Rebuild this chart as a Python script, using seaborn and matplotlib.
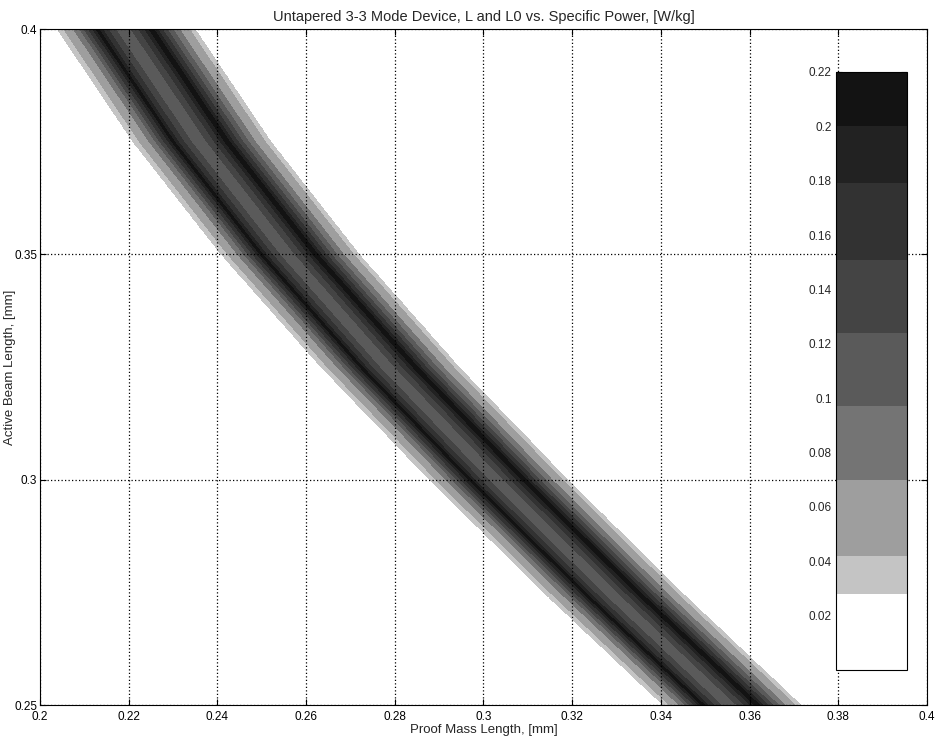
import numpy as np
import matplotlib
matplotlib.use("Agg")
import matplotlib.pyplot as plt
import seaborn as sns

# centre of the band (proof mass length) read at a few beam lengths
beam_len = [0.25, 0.275, 0.30, 0.325, 0.35, 0.375, 0.40]
band_centre = [0.3560, 0.3291, 0.3034, 0.2789, 0.2564, 0.2365, 0.2194]
half_width = 0.0155

# cross-section of specific power across the band (relative offset -> W/kg)
cross_u = [-1.05, -1.0, -0.85, -0.7, -0.56, -0.42, -0.3, -0.15, 0.05, 0.2,
           0.37, 0.5, 0.63, 0.78, 0.9, 1.0, 1.05]
cross_p = [0.0, 0.029, 0.05, 0.085, 0.145, 0.207, 0.16, 0.122, 0.118, 0.155,
           0.212, 0.16, 0.11, 0.068, 0.045, 0.029, 0.0]

# contour levels and fill greys as on the colorbar
levels = [0.0, 0.028, 0.042, 0.07, 0.097, 0.124, 0.151, 0.179, 0.2, 0.22]
greys = ["#ffffff", "#c4c4c4", "#9e9e9e", "#747474", "#5a5a5a",
         "#444444", "#323232", "#222222", "#131313"]
cbar_ticks = [0.02, 0.04, 0.06, 0.08, 0.1, 0.12, 0.14, 0.16, 0.18, 0.2, 0.22]
x_ticks = [0.2, 0.22, 0.24, 0.26, 0.28, 0.3, 0.32, 0.34, 0.36, 0.38, 0.4]
y_ticks = [0.25, 0.3, 0.35, 0.4]

sns.set_theme(style="white")
plt.rcParams['font.family'] = ['Liberation Sans', 'DejaVu Sans']

# build the field on a grid
L0 = np.linspace(0.2, 0.4, 700)
L = np.linspace(0.25, 0.4, 500)
X, Y = np.meshgrid(L0, L)
C = np.interp(Y, beam_len, band_centre)
U = (X - C) / half_width
P = np.interp(U, cross_u, cross_p, left=0.0, right=0.0)

fig = plt.figure(figsize=(9.35, 7.48), dpi=100)
ax = fig.add_axes([40 / 935, 1 - 705 / 748, 887 / 935, 676 / 748])

cs = ax.contourf(X, Y, P, levels=levels, colors=greys)

ax.set_xlim(0.2, 0.4)
ax.set_ylim(0.25, 0.4)
ax.set_xticks(x_ticks)
ax.set_yticks(y_ticks)
ax.set_xticklabels([f"{v:g}" for v in x_ticks])
ax.set_yticklabels([f"{v:g}" for v in y_ticks])
ax.tick_params(direction="in", length=4, width=0.8, labelsize=8.5, colors="black",
               top=True, right=True, bottom=True, left=True, pad=2)
ax.tick_params(axis="x", pad=4)
ax.set_axisbelow(False)
ax.grid(True, color="black", linestyle=(0, (1, 1.8)), linewidth=0.9)
for sp in ax.spines.values():
    sp.set_color("black")
    sp.set_linewidth(0.8)

ax.set_title("Untapered 3-3 Mode Device, L and L0 vs. Specific Power, [W/kg]",
             fontsize=10.5, pad=6)
ax.set_xlabel("Proof Mass Length, [mm]", fontsize=9.5, labelpad=1)
ax.set_ylabel("Active Beam Length, [mm]", fontsize=9.5)
ax.yaxis.set_label_coords(-24 / 887, 0.5)

cax = fig.add_axes([836 / 935, 1 - 670 / 748, 71 / 935, 598 / 748])
cb = fig.colorbar(cs, cax=cax, spacing="proportional", ticks=cbar_ticks)
cb.ax.set_ylim(0.0, 0.22)
cb.ax.yaxis.set_ticks_position("both")
cb.ax.tick_params(direction="in", length=4, width=0.8, labelsize=8.5,
                  left=True, right=True, labelleft=True, labelright=False, pad=3)
cb.ax.set_yticklabels([f"{v:g}" for v in cbar_ticks])
cb.outline.set_edgecolor("black")
cb.outline.set_linewidth(0.8)

fig.savefig("out.png", dpi=100, facecolor="white")
